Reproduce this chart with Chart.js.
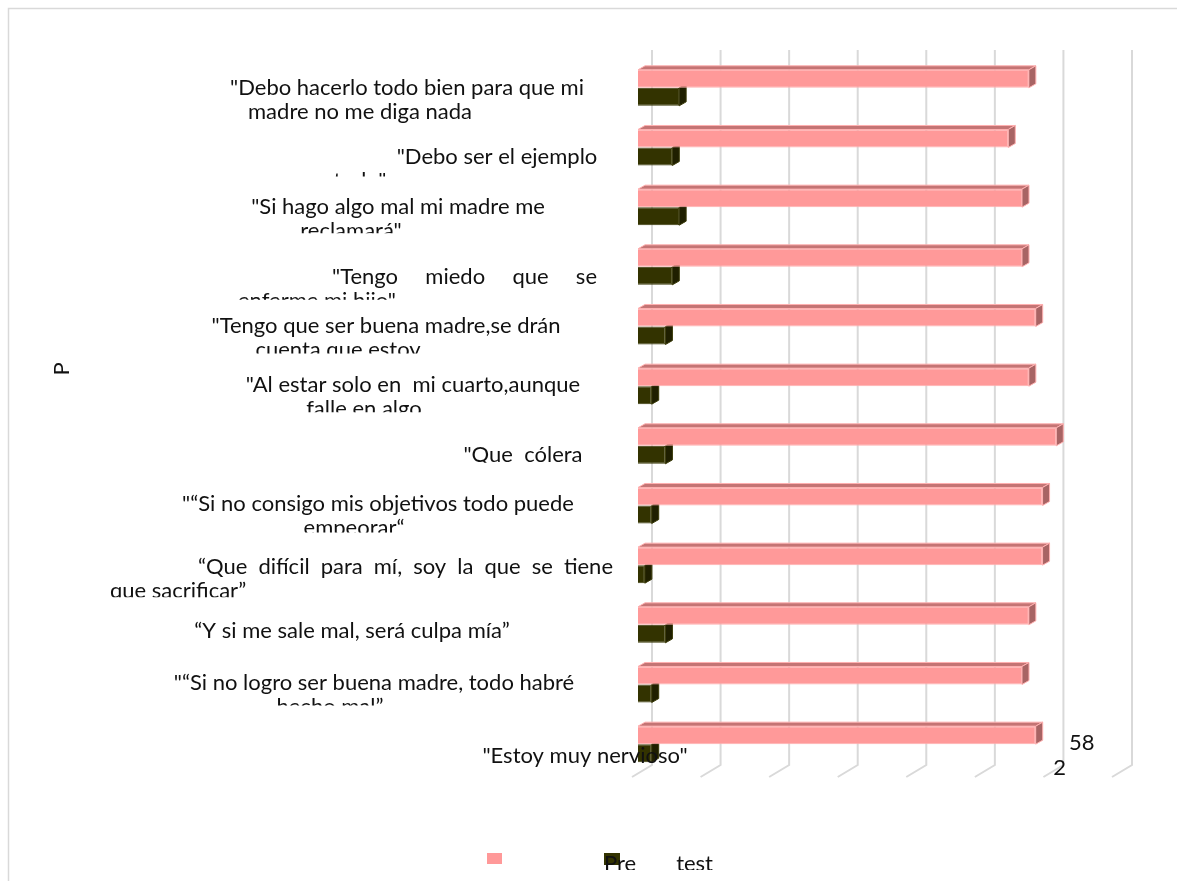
<!DOCTYPE html>
<html>
<head>
<meta charset="utf-8">
<script src="https://cdn.jsdelivr.net/npm/chart.js@4.4.1/dist/chart.umd.min.js"></script>
<style>
body{margin:0;background:#fff;}
</style>
</head>
<body>
<canvas id="chartarea" width="1177" height="881"></canvas>
<script>
// categories, top to bottom (each entry = wrapped lines)
const categories=[
  ['"Debo hacerlo todo bien para que mi','madre no me diga nada'],
  ['"Debo ser el ejemplo','todo"'],
  ['"Si hago algo mal mi madre me','reclamará"'],
  ['"Tengo miedo que se','enferme mi hijo"'],
  ['"Tengo que ser buena madre,se drán','cuenta que estoy'],
  ['"Al estar solo en  mi cuarto,aunque','falle en algo'],
  ['"Que  cólera'],
  ['"“Si no consigo mis objetivos todo puede','empeorar“'],
  ['“Que difícil para mí, soy la que se tiene','que sacrificar”'],
  ['“Y si me sale mal, será culpa mía”'],
  ['"“Si no logro ser buena madre, todo habré','hecho mal”'],
  ['"Estoy muy nervioso"']
];
const pinkValues=[57,54,56,56,58,57,61,59,59,57,56,58];
const darkValues=[6,5,6,5,4,2,4,2,1,4,2,2];
const seriesNames=['','Pre test'];

const FONT='Lato, "Open Sans", sans-serif';
const grid='#D9D9D9';

// where each wrapped label sits, relative to the value axis and its row
const labelLayout=[
  {dy:0,c:[-231,-278]},
  {dy:9,c:[-141,-278],clip:20},
  {dy:0,c:[-240,-287],clip:26},
  {dy:10,just:[-306,-41],c:[null,-321],clip:23},
  {dy:-1,c:[-252,-300],clip:28},
  {dy:-1,c:[-225,-274],clip:27},
  {dy:9,c:[-115],clip:8},
  {dy:-2,c:[-260,-284],clip:29},
  {dy:2,just:[-440,-25],left2:-528,clip:30},
  {dy:6,c:[-286]},
  {dy:-2,c:[-264,-308],clip:23},
  {dy:12,c:[-53]}
];

function justified(ctx,text,l,r,y){
  const words=text.split(/\s+/);
  const ws=words.map(w=>ctx.measureText(w).width);
  const total=ws.reduce((a,b)=>a+b,0);
  const gap=words.length>1?(r-l-total)/(words.length-1):0;
  ctx.textAlign='left';
  let x=l;
  words.forEach((w,i)=>{ctx.fillText(w,x,y);x+=ws[i]+gap;});
}

const depthPlugin={
  id:'depth',
  beforeDraw(chart){
    const ctx=chart.ctx;
    ctx.save();
    ctx.strokeStyle=grid;ctx.lineWidth=1.5;
    ctx.strokeRect(8.5,8.5,1400,1200);
    ctx.restore();
  },
  beforeDatasetsDraw(chart){
    const ctx=chart.ctx,ca=chart.chartArea,xs=chart.scales.x;
    ctx.save();
    // back wall + floor lines
    ctx.strokeStyle=grid;ctx.lineWidth=2;
    xs.ticks.forEach(t=>{
      const px=xs.getPixelForValue(t.value);
      ctx.beginPath();
      ctx.moveTo(px+14,ca.top-8);
      ctx.lineTo(px+14,ca.bottom-9);
      ctx.lineTo(px-6,ca.bottom+3);
      ctx.stroke();
    });
    // top and side faces of the bars
    const dx=7,dy=4;
    const faces=[{top:'#C47474',side:'#A86464',edge:'#FFB0B0'},{top:null,side:'#1F1F00',edge:'#3A3A08'}];
    chart.data.datasets.forEach((ds,di)=>{
      chart.getDatasetMeta(di).data.forEach(bar=>{
        const p=bar.getProps(['x','y','base','height'],true);
        const t=p.y-p.height/2,b=p.y+p.height/2,x0=p.base,x1=p.x;
        ctx.strokeStyle=faces[di].edge;ctx.lineWidth=1;
        if(faces[di].top){
          ctx.fillStyle=faces[di].top;
          ctx.beginPath();
          ctx.moveTo(x0,t);ctx.lineTo(x0+dx,t-dy);ctx.lineTo(x1+dx,t-dy);ctx.lineTo(x1,t);ctx.closePath();
          ctx.fill();ctx.stroke();
        }
        ctx.fillStyle=faces[di].side;
        ctx.beginPath();
        ctx.moveTo(x1,t);ctx.lineTo(x1+dx,t-dy);ctx.lineTo(x1+dx,b-dy);ctx.lineTo(x1,b);ctx.closePath();
        ctx.fill();ctx.stroke();
      });
    });
    ctx.restore();
  },
  afterDraw(chart){
    const ctx=chart.ctx,ca=chart.chartArea,ys=chart.scales.y;
    ctx.save();
    ctx.fillStyle='#111';
    ctx.font='22px '+FONT;
    ctx.textBaseline='middle';
    // category labels
    categories.forEach((lines,i)=>{
      const L=labelLayout[i];
      const y=ys.getPixelForValue(i)+L.dy;
      ctx.save();
      if(L.clip!==undefined){
        ctx.beginPath();ctx.rect(0,y-24,ca.left,L.clip+24);ctx.clip();
      }
      if(L.just) justified(ctx,lines[0],ca.left+L.just[0],ca.left+L.just[1],y);
      else {ctx.textAlign='center';ctx.fillText(lines[0],ca.left+L.c[0],y);}
      if(lines[1]){
        if(L.left2!==undefined){ctx.textAlign='left';ctx.fillText(lines[1],ca.left+L.left2,y+24);}
        else {ctx.textAlign='center';ctx.fillText(lines[1],ca.left+L.c[1],y+24);}
      }
      ctx.restore();
    });
    // value labels on the last row
    const last=categories.length-1;
    const pb=chart.getDatasetMeta(0).data[last],db=chart.getDatasetMeta(1).data[last];
    ctx.textAlign='center';
    ctx.fillText(String(pinkValues[last]),pb.x+46,pb.y+8);
    ctx.fillText(String(darkValues[last]),pb.x+24,db.y+15);
    // axis title
    ctx.save();
    ctx.translate(62,369);ctx.rotate(-Math.PI/2);
    ctx.fillText('P',0,0);
    ctx.restore();
    // legend
    const cx=chart.width/2;
    ctx.fillStyle=chart.data.datasets[0].backgroundColor;
    ctx.fillRect(cx-101.5,853,15,11);
    ctx.fillStyle=chart.data.datasets[1].backgroundColor;
    ctx.fillRect(cx+15.5,853,16,12);
    ctx.beginPath();ctx.rect(0,840,chart.width,30);ctx.clip();
    ctx.fillStyle='#111';
    ctx.textBaseline='alphabetic';
    justified(ctx,seriesNames[1],cx+15.5,cx+124.5,871);
    ctx.restore();
  }
};

new Chart(document.getElementById('chartarea'),{
  type:'bar',
  data:{
    labels:categories,
    datasets:[
      {label:seriesNames[0],data:pinkValues,backgroundColor:'#FF9999',borderColor:'#FFB0B0',borderWidth:1},
      {label:seriesNames[1],data:darkValues,backgroundColor:'#333300',borderColor:'#3A3A08',borderWidth:1}
    ]
  },
  options:{
    indexAxis:'y',
    responsive:false,
    animation:false,
    devicePixelRatio:1,
    categoryPercentage:0.604,
    barPercentage:1,
    layout:{padding:{left:638,right:59,top:58,bottom:107}},
    plugins:{legend:{display:false},tooltip:{enabled:false}},
    scales:{
      x:{display:false,min:0,max:70,ticks:{stepSize:10}},
      y:{display:false}
    }
  },
  plugins:[depthPlugin]
});
</script>
</body>
</html>
